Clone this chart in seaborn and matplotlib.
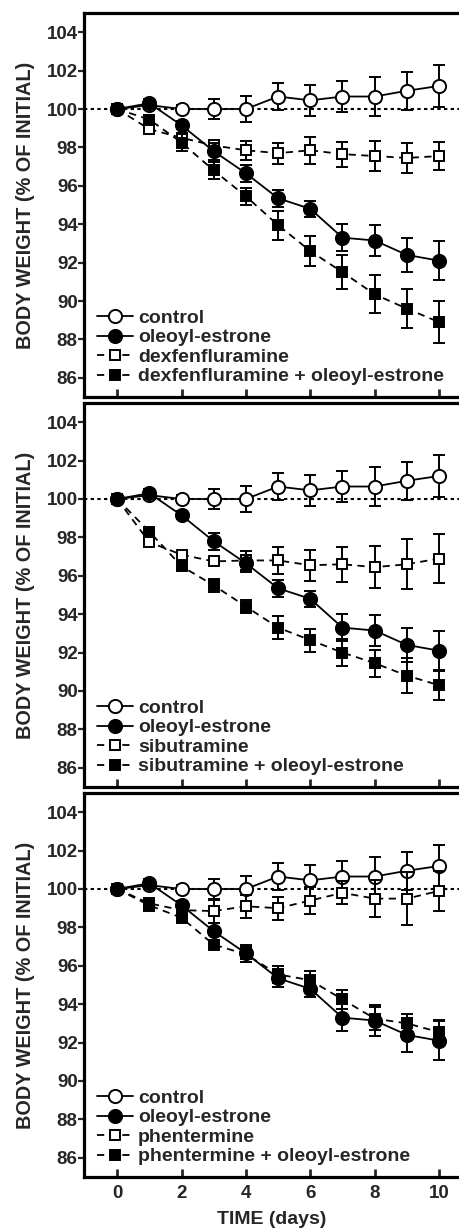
import numpy as np
import pandas as pd
import matplotlib
matplotlib.use("Agg")
import matplotlib.pyplot as plt
import seaborn as sns

# ---------------- data ----------------
days = [0, 1, 2, 3, 4, 5, 6, 7, 8, 9, 10]

control = [100, 100.2, 100.0, 100.0, 100.0, 100.65, 100.45, 100.65, 100.65, 100.95, 101.2]
control_err = [0, 0.2, 0.2, 0.5, 0.7, 0.7, 0.8, 0.8, 1.0, 1.0, 1.1]

oleoyl = [100, 100.3, 99.15, 97.8, 96.65, 95.35, 94.8, 93.3, 93.15, 92.4, 92.1]
oleoyl_err = [0, 0.2, 0.2, 0.45, 0.45, 0.45, 0.4, 0.7, 0.8, 0.9, 1.0]

dex = [100, 98.95, 98.5, 98.1, 97.85, 97.7, 97.85, 97.65, 97.55, 97.45, 97.55]
dex_err = [0, 0.2, 0.25, 0.25, 0.5, 0.55, 0.7, 0.65, 0.8, 0.8, 0.75]
dex_oe = [100, 99.45, 98.25, 96.8, 95.45, 93.95, 92.6, 91.5, 90.35, 89.6, 88.9]
dex_oe_err = [0, 0.25, 0.45, 0.45, 0.45, 0.75, 0.8, 0.9, 1.0, 1.0, 1.1]

sib = [100, 97.75, 97.1, 96.75, 96.8, 96.8, 96.55, 96.6, 96.45, 96.6, 96.9]
sib_err = [0, 0.15, 0.2, 0.2, 0.5, 0.7, 0.8, 0.9, 1.1, 1.3, 1.3]
sib_oe = [100, 98.3, 96.5, 95.5, 94.4, 93.3, 92.65, 92.0, 91.45, 90.8, 90.3]
sib_oe_err = [0, 0.2, 0.2, 0.35, 0.35, 0.6, 0.6, 0.7, 0.7, 0.9, 0.75]

phen = [100, 99.25, 98.9, 98.85, 99.1, 99.0, 99.4, 99.8, 99.5, 99.5, 99.9]
phen_err = [0, 0.2, 0.3, 0.6, 0.6, 0.6, 0.7, 0.6, 0.95, 1.4, 1.05]
phen_oe = [100, 99.15, 98.5, 97.1, 96.6, 95.55, 95.25, 94.25, 93.25, 93.0, 92.55]
phen_oe_err = [0, 0.3, 0.2, 0.15, 0.4, 0.45, 0.5, 0.5, 0.6, 0.5, 0.65]

drug_names = ["dexfenfluramine", "sibutramine", "phentermine"]
drug_vals = [dex, sib, phen]
drug_errs = [dex_err, sib_err, phen_err]
combo_vals = [dex_oe, sib_oe, phen_oe]
combo_errs = [dex_oe_err, sib_oe_err, phen_oe_err]

x_ticks = [0, 2, 4, 6, 8, 10]
y_ticks = [86, 88, 90, 92, 94, 96, 98, 100, 102, 104]
y_label = "BODY WEIGHT (% OF INITIAL)"
x_label = "TIME (days)"

# ---------------- style ----------------
sns.set_theme(style="ticks")
plt.rcParams["font.family"] = ["Liberation Sans", "DejaVu Sans"]
plt.rcParams["font.weight"] = "bold"

W, H = 460, 1229
fig = plt.figure(figsize=(W / 100, H / 100), dpi=100)

left = 84 / W
width = 1.0 - left
ax_h = 384 / H
bottoms = [(H - 397) / H, (H - 787) / H, (H - 1177) / H]

DASH = (0, (4, 3))
LW = 1.3


def draw_series(ax, vals, errs, marker, filled, ls, label, ms, z):
    ax.errorbar(days, vals, yerr=errs, fmt="none", ecolor="black",
                elinewidth=1.4, capsize=4.6, capthick=1.4, zorder=z)
    sns.lineplot(x=days, y=vals, ax=ax, color="black", errorbar=None,
                 marker=marker, markersize=ms,
                 markerfacecolor="black" if filled else "white",
                 markeredgecolor="black", markeredgewidth=1.4,
                 linestyle=ls, linewidth=LW, label=label, zorder=z + 0.5)


for i, b in enumerate(bottoms):
    ax = fig.add_axes([left, b, width, ax_h])
    ax.axhline(100, color="black", linestyle=(0, (1.6, 1.6)), linewidth=1.5, zorder=1)

    draw_series(ax, control, control_err, "o", False, "-", "control", 9.5, 2)
    draw_series(ax, drug_vals[i], drug_errs[i], "s", False, DASH, drug_names[i], 7.5, 3)
    draw_series(ax, oleoyl, oleoyl_err, "o", True, "-", "oleoyl-estrone", 9.5, 4)
    draw_series(ax, combo_vals[i], combo_errs[i], "s", True, DASH,
                drug_names[i] + " + oleoyl-estrone", 7.5, 5)

    ax.set_xlim(-1.03, 10.65)
    ax.set_ylim(85, 105)
    ax.set_xticks(x_ticks)
    ax.set_yticks(y_ticks)
    ax.tick_params(axis="x", direction="in", length=6, width=2.0, pad=6,
                   labelsize=13.5)
    ax.tick_params(axis="y", direction="out", length=4, width=1.6, pad=0.5,
                   labelsize=13.5)
    for lab in ax.get_xticklabels() + ax.get_yticklabels():
        lab.set_fontweight("bold")
    if i < 2:
        ax.set_xticklabels([])
        ax.set_xlabel("")
    else:
        ax.set_xlabel(x_label, fontsize=14, fontweight="bold", labelpad=6)
    ax.set_ylabel(y_label, fontsize=14.3, fontweight="bold")
    ax.yaxis.set_label_coords(-0.13, 0.5)

    for s in ["left", "bottom", "top"]:
        ax.spines[s].set_linewidth(2.3)
        ax.spines[s].set_color("black")
    ax.spines["right"].set_visible(False)

    handles, labels = ax.get_legend_handles_labels()
    order = [labels.index("control"), labels.index("oleoyl-estrone"),
             labels.index(drug_names[i]),
             labels.index(drug_names[i] + " + oleoyl-estrone")]
    ax.legend([handles[k] for k in order], [labels[k] for k in order],
              loc="lower left", bbox_to_anchor=(0.035, 0.03),
              frameon=False, borderpad=0, borderaxespad=0,
              handlelength=1.85, handletextpad=0.25, labelspacing=0.1,
              prop={"weight": "bold", "size": 14})

fig.savefig("out.png", dpi=100)
